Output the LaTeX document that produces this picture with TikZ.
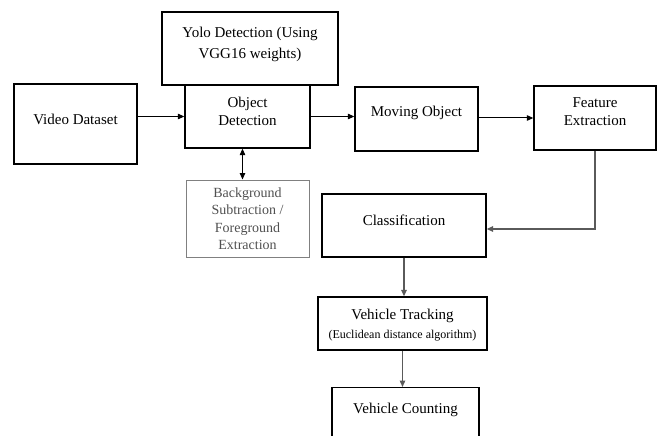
\documentclass[tikz,border=0pt]{standalone}
\usepackage{fontspec}
\setmainfont{Liberation Serif}
\usepackage{xcolor}
\usetikzlibrary{arrows.meta}

\definecolor{boxgrey}{HTML}{808080}
\definecolor{textgrey}{HTML}{505050}
\definecolor{linegrey}{HTML}{5A5A5A}

\begin{document}
\begin{tikzpicture}[x=1pt,y=-1pt,
        box/.style={draw=black,line width=1.3pt,rectangle,align=center,
                    font=\fontsize{15}{18}\selectfont,inner sep=0pt},
        greybox/.style={box,draw=boxgrey,line width=1pt,text=textgrey,
                    font=\fontsize{14}{17.5}\selectfont},
        boxtext/.style={font=\fontsize{15}{18}\selectfont,align=center,inner sep=0pt},
        arr/.style={-{Triangle[length=6.5pt,width=5.5pt]},line width=1pt},
        greyarr/.style={arr,draw=linegrey,line width=1.3pt}]
        \useasboundingbox (0,0) rectangle (657,436);
        \node[box,minimum width=176pt,minimum height=73pt] (yolo) at (250,48.5) {};
        \node[boxtext,font=\fontsize{15}{21}\selectfont] (yolo-txt) at (250,44.5)
            {Yolo Detection (Using\\VGG16 weights)};
        \node[box,minimum width=125pt,minimum height=63pt] (od) at (247.5,116.5) {};
        \node[boxtext] (od-txt) at (247.5,111) {Object\\Detection};
        \node[box,minimum width=123pt,minimum height=80pt] (video) at (75.5,124) {};
        \node[boxtext] (video-txt) at (75.5,119) {Video Dataset};
        \node[box,minimum width=123pt,minimum height=64pt] (mo) at (416.5,119) {};
        \node[boxtext] (mo-txt) at (416.5,113) {Moving Object};
        \node[box,minimum width=122pt,minimum height=64pt] (fe) at (595,118) {};
        \node[boxtext] (fe-txt) at (595,112) {Feature\\Extraction};
        \node[greybox,minimum width=123pt,minimum height=77pt] (bg) at (247.5,218.5)
            {Background\\Subtraction /\\Foreground\\Extraction};
        \node[box,minimum width=164pt,minimum height=63pt] (class) at (404,225.5) {};
        \node[boxtext] (class-txt) at (404,220) {Classification};
        \node[box,minimum width=169pt,minimum height=53pt] (vt) at (402.5,323.5) {};
        \node[boxtext] (vt-txt) at (402.5,325)
            {Vehicle Tracking\\[1pt]{\fontsize{12}{14}\selectfont(Euclidean distance algorithm)}};
        \node[box,anchor=north,minimum width=147pt,text height=26pt,text depth=50pt] (vc)
            at (405.5,387) {Vehicle Counting};

        \draw[arr] (video.east |- od.west) -- (od.west);
        \draw[arr] (od.east) -- (od.east -| mo.west);
        \draw[arr] (mo.east |- fe.west) -- (fe.west);
        \draw[{Triangle[length=6.5pt,width=5.5pt]}-{Triangle[length=6.5pt,width=5.5pt]},line width=1pt]
            ([xshift=-5pt]od.south) -- ([xshift=-5pt]bg.north);
        \draw[greyarr] (fe.south) |- ([yshift=-3.5pt]class.east);
        \draw[greyarr] (class.south) -- (class.south |- vt.north);
        \draw[greyarr] (vt.south) -- (vt.south |- vc.north);
\end{tikzpicture}
\end{document}
